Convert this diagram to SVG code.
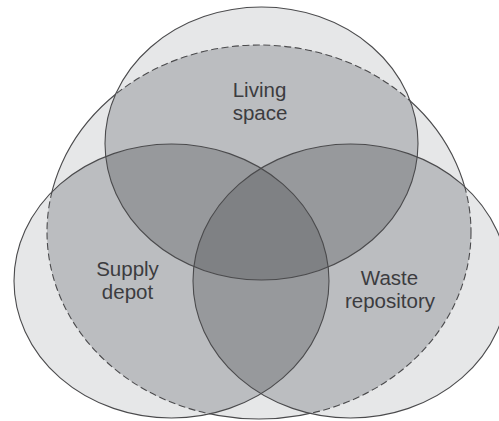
<svg xmlns="http://www.w3.org/2000/svg" xmlns:xlink="http://www.w3.org/1999/xlink" width="499" height="421" viewBox="0 0 499 421">
<style>
.light{fill:#e6e7e8}
.mid{fill:#bbbdc0}
.dbl{fill:#97999c}
.tri{fill:#7f8184}
.edge{fill:none;stroke:#4b4b4d;stroke-width:1.1}
.dash{fill:none;stroke:#4b4b4d;stroke-width:1.1;stroke-dasharray:7 3.5}
.lbl{font-family:"Liberation Sans",Arial,Helvetica,sans-serif;font-size:20.5px;fill:#3c3c3f;text-anchor:middle}
</style>
<defs>
<ellipse id="eL" cx="261.5" cy="143.5" rx="156.5" ry="136.5"/>
<ellipse id="eS" cx="171.5" cy="281" rx="157.5" ry="137"/>
<ellipse id="eW" cx="350.5" cy="281" rx="157.5" ry="137"/>
<ellipse id="eD" cx="259" cy="232" rx="212" ry="187"/>
<clipPath id="cL"><use href="#eL"/></clipPath>
<clipPath id="cS"><use href="#eS"/></clipPath>
<clipPath id="cD"><use href="#eD"/></clipPath>
<clipPath id="cU"><use href="#eL"/><use href="#eS"/><use href="#eW"/></clipPath>
<mask id="mOut" maskUnits="userSpaceOnUse" x="0" y="0" width="499" height="421">
<rect x="0" y="0" width="499" height="421" fill="#fff"/>
<use href="#eL" fill="#000"/><use href="#eS" fill="#000"/><use href="#eW" fill="#000"/>
</mask>
</defs>
<rect x="0" y="0" width="499" height="421" fill="#fff"/>
<g id="regions">
<g class="light"><use href="#eL"/><use href="#eS"/><use href="#eW"/><use href="#eD"/></g>
<g class="mid" clip-path="url(#cD)"><use href="#eL"/><use href="#eS"/><use href="#eW"/></g>
<g class="dbl"><use href="#eS" clip-path="url(#cL)"/><use href="#eW" clip-path="url(#cL)"/><use href="#eW" clip-path="url(#cS)"/></g>
<g clip-path="url(#cL)"><use href="#eW" class="tri" clip-path="url(#cS)"/></g>
</g>
<g id="boundary">
<use href="#eD" class="edge" mask="url(#mOut)"/>
<use href="#eD" class="dash" clip-path="url(#cU)"/>
</g>
<g id="connectors"></g>
<g id="living">
<use href="#eL" class="edge"/>
<text class="lbl" x="259.5" y="96.5">Living</text>
<text class="lbl" x="260" y="119.5">space</text>
</g>
<g id="supply">
<use href="#eS" class="edge"/>
<text class="lbl" x="127.5" y="276">Supply</text>
<text class="lbl" x="127.5" y="299">depot</text>
</g>
<g id="waste">
<use href="#eW" class="edge"/>
<text class="lbl" x="389.5" y="285">Waste</text>
<text class="lbl" x="390" y="308">repository</text>
</g>
</svg>
